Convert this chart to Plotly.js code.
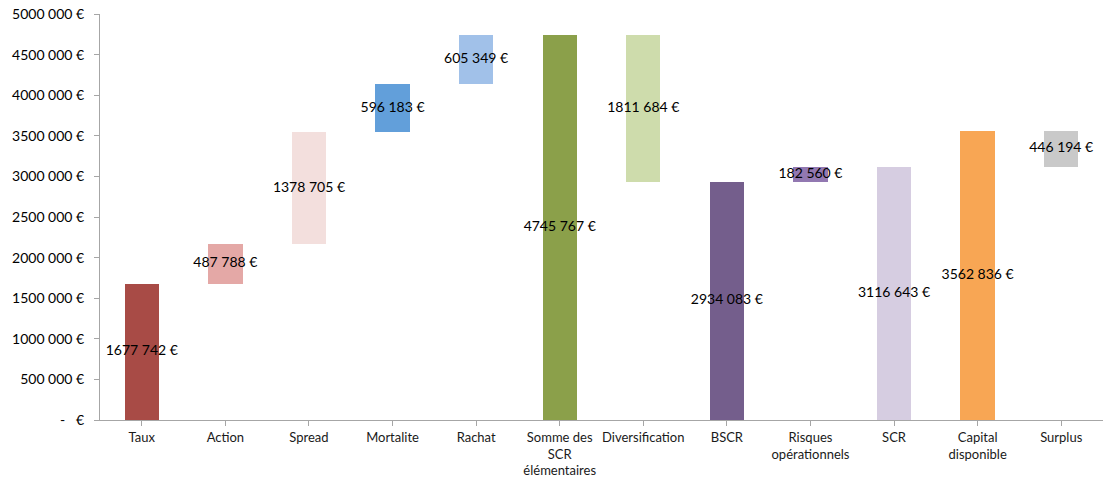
<!DOCTYPE html>
<html>
<head>
<meta charset="utf-8">
<script src="https://cdn.plot.ly/plotly-3.0.1.min.js"></script>
<style>
  html, body { margin: 0; padding: 0; background: #ffffff; }
  #chart { width: 1103px; height: 482px; }
</style>
</head>
<body>
<div id="chart"></div>
<script>
// Décomposition du SCR : contributions par module de risque (en €)
const categories = ["Taux", "Action", "Spread", "Mortalite", "Rachat",
  "Somme des<br>SCR<br>élémentaires", "Diversification", "BSCR",
  "Risques<br>opérationnels", "SCR", "Capital<br>disponible", "Surplus"];
const amounts = [1677742, 487788, 1378705, 596183, 605349, 4745767,
  1811684, 2934083, 182560, 3116643, 3562836, 446194];
const bases = [0, 1677742, 2165530, 3544235, 4140418, 0,
  2934083, 0, 2934083, 0, 0, 3116643];
const colors = ["#A84B46", "#E4A8A6", "#F3DFDD", "#629FDA", "#A1C1E9",
  "#8BA04A", "#CEDCAC", "#745E8C", "#9278B1", "#D6CDE1", "#F8A654", "#C9C9C9"];
const yTickVals = [0, 500000, 1000000, 1500000, 2000000, 2500000,
  3000000, 3500000, 4000000, 4500000, 5000000];
const yTickText = ["-   €", "500 000 €", "1000 000 €", "1500 000 €", "2000 000 €",
  "2500 000 €", "3000 000 €", "3500 000 €", "4000 000 €", "4500 000 €", "5000 000 €"];

// 1677742 -> "1677 742 €"
function euro(v) {
  const s = String(v);
  const head = s.slice(0, s.length - 3);
  const tail = s.slice(-3);
  return head + " " + tail + " €";
}

const xIdx = categories.map((_, i) => i);

const bars = {
  type: "bar",
  x: xIdx,
  y: amounts,
  base: bases,
  width: 0.41,
  marker: { color: colors, line: { width: 0 } },
  hoverinfo: "skip",
  showlegend: false
};

const labels = {
  type: "scatter",
  mode: "text",
  x: xIdx,
  y: amounts.map((v, i) => bases[i] + v / 2),
  text: amounts.map(euro),
  textposition: "middle center",
  textfont: { family: "Lato, 'Open Sans', sans-serif", size: 14, color: "#000000" },
  hoverinfo: "skip",
  showlegend: false,
  cliponaxis: false
};

const layout = {
  width: 1103,
  height: 482,
  margin: { l: 100, r: 0, t: 14, b: 62 },
  paper_bgcolor: "#ffffff",
  plot_bgcolor: "#ffffff",
  font: { family: "Lato, 'Open Sans', sans-serif", size: 13, color: "#000000" },
  bargap: 0,
  xaxis: {
    range: [-0.5, 11.5],
    tickmode: "array",
    tickvals: xIdx,
    ticktext: categories,
    tickson: "boundaries",
    ticks: "outside",
    ticklen: 5,
    tickcolor: "#a6a6a6",
    showline: true,
    linecolor: "#a6a6a6",
    linewidth: 1,
    showgrid: false,
    zeroline: false,
    tickfont: { size: 13, color: "#1a1a1a" },
    fixedrange: true
  },
  yaxis: {
    range: [0, 5000000],
    tickmode: "array",
    tickvals: yTickVals,
    ticktext: yTickText,
    ticks: "outside",
    ticklen: 5,
    tickcolor: "#a6a6a6",
    showline: true,
    linecolor: "#a6a6a6",
    linewidth: 1,
    showgrid: false,
    zeroline: false,
    tickfont: { size: 14, color: "#000000" },
    ticklabelstandoff: 7,
    fixedrange: true
  }
};

Plotly.newPlot("chart", [bars, labels], layout, { displayModeBar: false, staticPlot: true });
</script>
</body>
</html>
